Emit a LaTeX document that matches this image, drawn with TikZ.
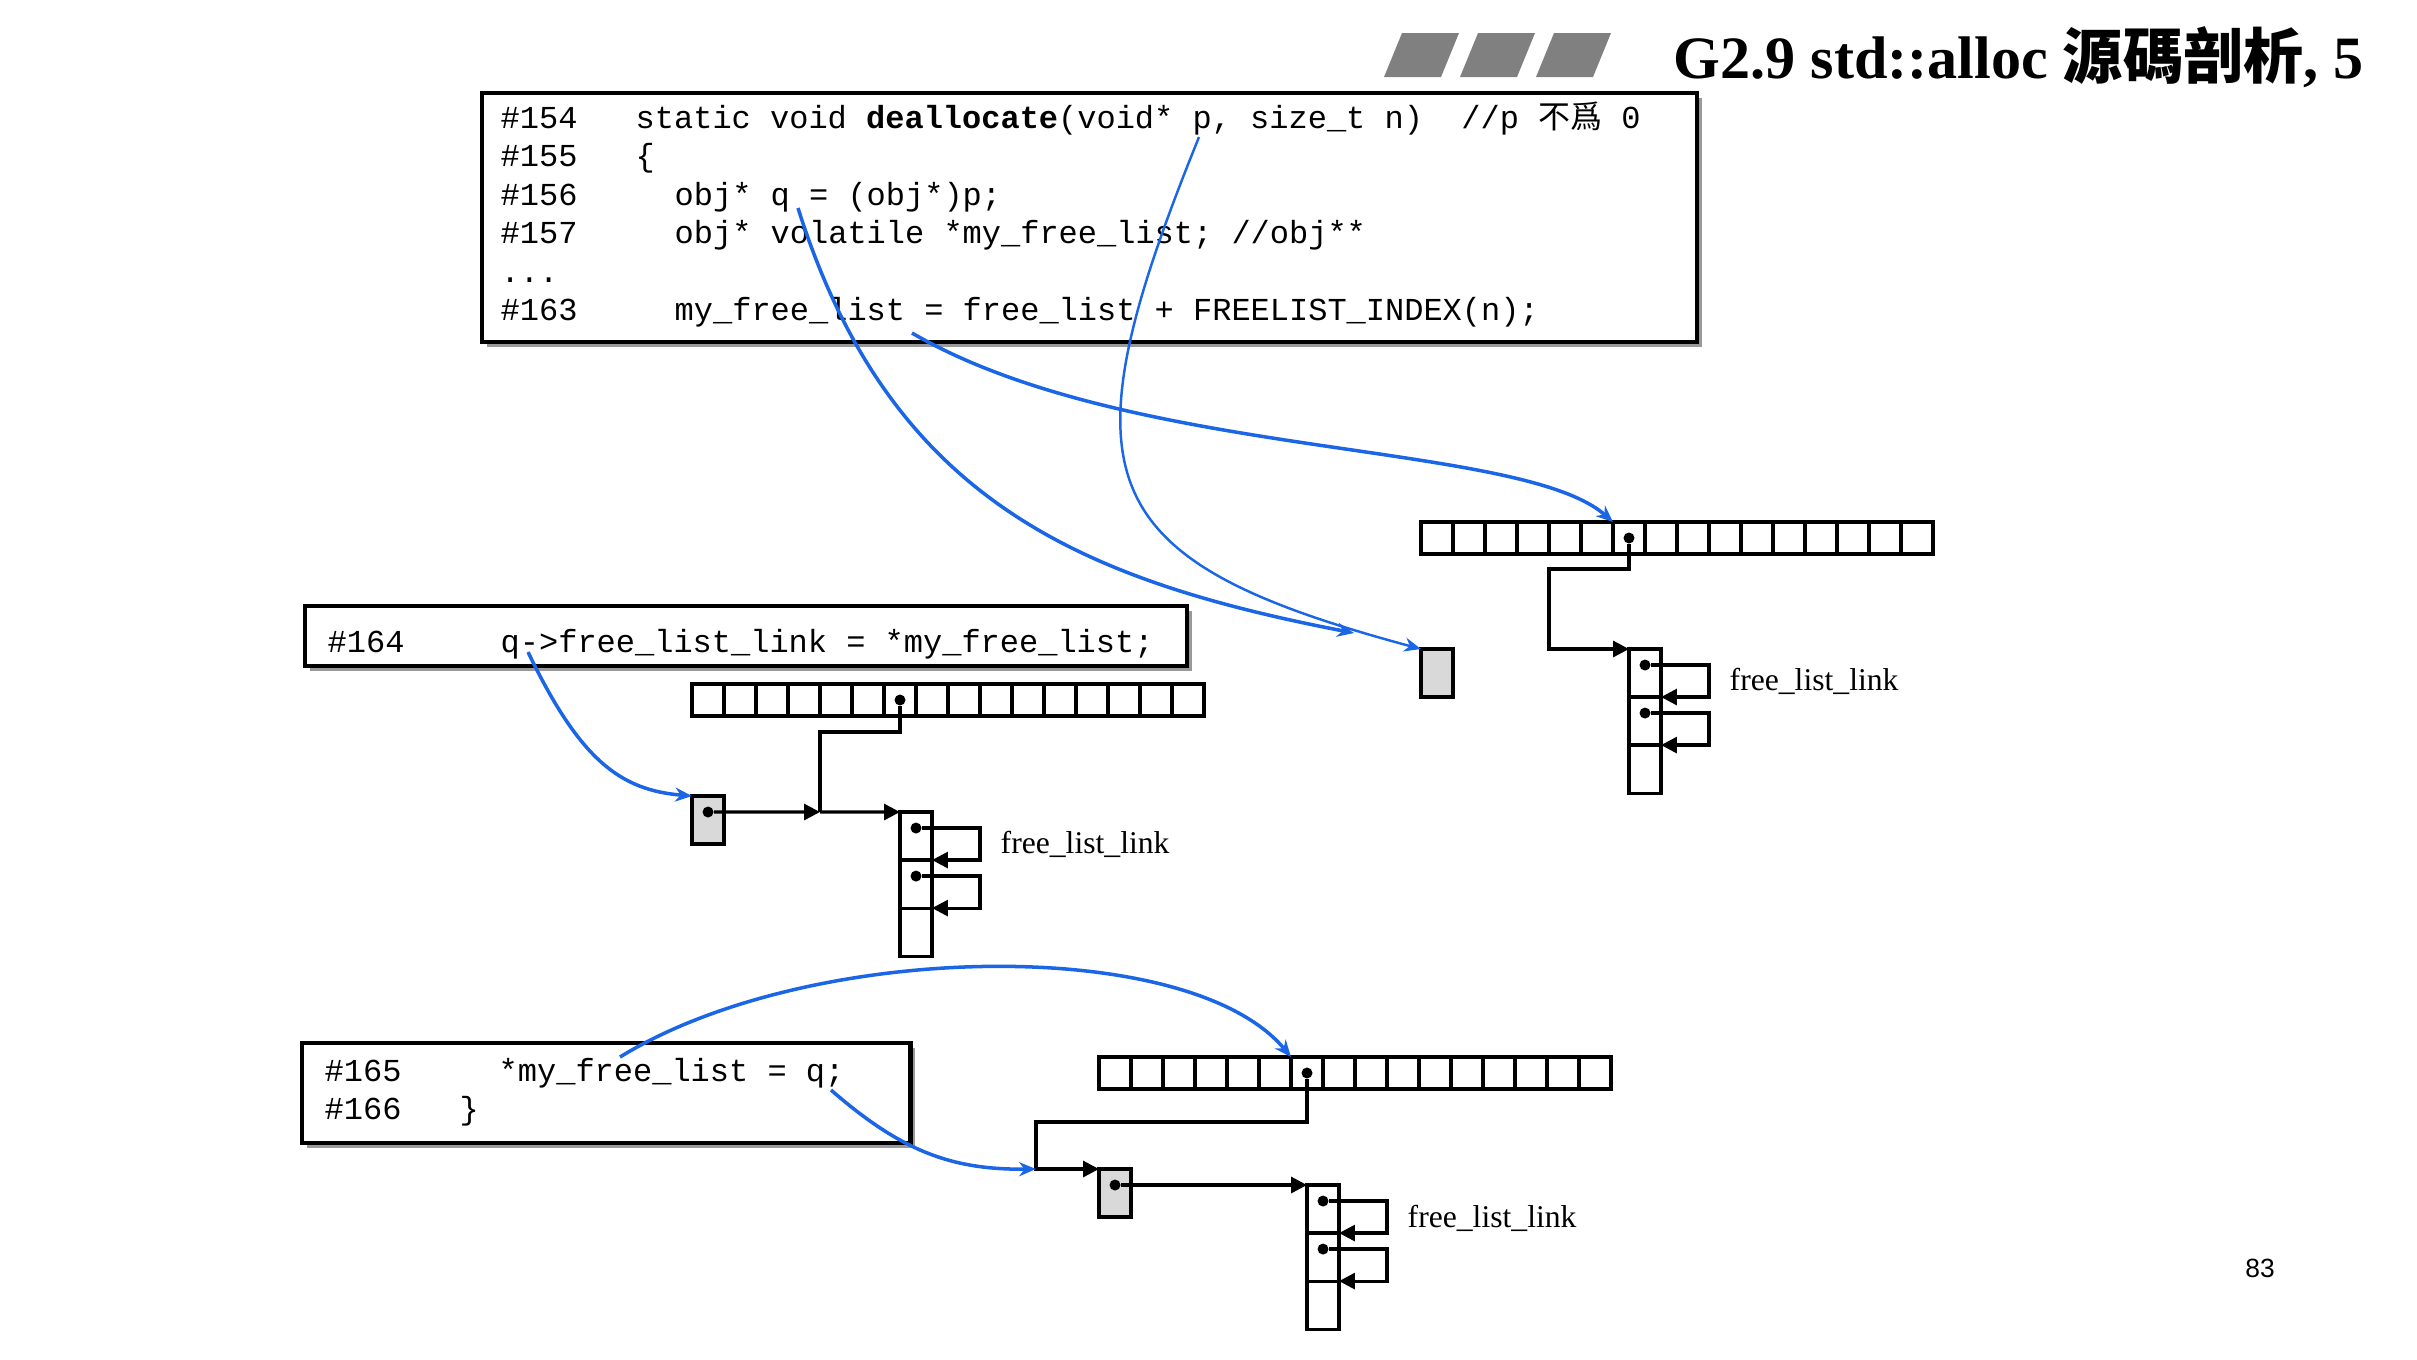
\documentclass[tikz,border=0pt]{standalone}
\usepackage{fontspec}
\setmainfont{Liberation Serif}
\newfontfamily\codefont{Liberation Mono}
\newfontfamily\cjk{Noto Sans CJK TC}
\newfontfamily\pagefont{Liberation Sans}
\usetikzlibrary{arrows.meta,shadows,positioning}
\definecolor{linkblue}{RGB}{26,102,230}
\tikzset{
  cell/.style={draw, line width=0.9pt, minimum width=0.32cm, minimum height=0.32cm, inner sep=0pt, outer sep=0pt},
  lcell/.style={cell, minimum height=0.48cm},
  grayblock/.style={cell, fill=gray!30, minimum height=0.48cm},
  dot/.style={circle, fill=black, inner sep=0pt, minimum size=0.11cm},
  wire/.style={line width=0.9pt},
  ptr/.style={wire, -{Triangle[length=4.5pt,width=4.5pt]}},
  hint/.style={draw=linkblue, line width=1pt, -{Stealth[length=4.8pt,width=4pt]}},
  codebox/.style={draw, line width=1.2pt, fill=white, inner sep=0pt, anchor=north west,
    drop shadow={shadow xshift=0.05cm, shadow yshift=-0.05cm, fill=gray!80, opacity=1}},
  code/.style={font=\codefont\fontsize{9.1pt}{11pt}\selectfont, inner sep=0pt, anchor=base west},
  lbl/.style={font=\fontsize{9pt}{11pt}\selectfont, inner sep=0pt, anchor=base west},
}
\begin{document}
\begin{tikzpicture}[x=0.01cm,y=-0.01cm]
    \useasboundingbox (0,0) rectangle (2417,1359);

    % Title with the three slanted bars
    \foreach \k in {0,1,2}
      \fill[black!50] ({1384+76*\k},77) -- ++(57,0) -- ++(18,-44) -- ++(-57,0) -- cycle;
    \node[anchor=base west, inner sep=0pt, font=\fontsize{17.1pt}{20pt}\selectfont\bfseries] (title) at (1673,78)
      {G2.9 std::alloc {\cjk 源碼剖析}, 5};

    % Code of deallocate
    \node[codebox, minimum width=12.14cm, minimum height=2.49cm] (box1) at (480,91) {};
    \node[code] (n154) at (500,128) {\#154};
    \node[code] (c154) at (635,128) {static void \textbf{deallocate}(void* p, size\_t n)\ \ //p {\cjk 不爲} 0};
    \node[code] (n155) at (500,166) {\#155};
    \node[code] (c155) at (635,166) {\{};
    \node[code] (n156) at (500,205) {\#156};
    \node[code] (c156) at (674,205) {obj* q = (obj*)p;};
    \node[code] (n157) at (500,243) {\#157};
    \node[code] (c157) at (674,243) {obj* volatile *my\_free\_list; //obj**};
    \node[code] (ndots) at (500,282) {...};
    \node[code] (n163) at (500,320) {\#163};
    \node[code] (c163) at (674,320) {my\_free\_list = free\_list + FREELIST\_INDEX(n);};

    % Free list before the block is given back
    \foreach \i in {0,...,15}
      \node[cell] (ta\i) at ({1437+32*\i},538) {};
    \node[dot] (tadot) at (ta6.center) {};
    \node[grayblock, anchor=north west] (tq) at (1421,649) {};
    \node[lcell, anchor=north west] (tl1) at (tadot |- tq.north) {};
    \node[lcell, below=0pt of tl1] (tl2) {};
    \node[lcell, below=0pt of tl2] (tl3) {};
    \node[dot] (tl1dot) at ([yshift=-0.16cm]tl1.north) {};
    \node[dot] (tl2dot) at ([yshift=-0.16cm]tl2.north) {};
    \coordinate (tbend) at (1549,569);
    \draw[ptr] (tadot) |- (tbend) |- (tl1.north west);
    \draw[ptr] (tl1dot) -| ([xshift=0.48cm]tl1.south east) -- (tl1.south east);
    \draw[ptr] (tl2dot) -| ([xshift=0.48cm]tl2.south east) -- (tl2.south east);
    \node[lbl] (tlbl) at (1729,690) {free\_list\_link};

    % Blue hints from the code
    \coordinate (qsrc) at (798,208);
    \coordinate (qdst) at (1354,633);
    \draw[hint] (qsrc) .. controls (890,500) and (1080,580) .. (qdst);
    \coordinate (psrc) at (1199,137);
    \draw[hint, line width=0.7pt] (psrc) .. controls (1060,480) and (1090,560) .. (tq.north west);
    \coordinate (fsrc) at (912,333);
    \draw[hint] (fsrc) .. controls (1130,460) and (1520,440) .. (ta6.north west);

    % Line 164
    \node[codebox, minimum width=8.81cm, minimum height=0.60cm] (box2) at (303,604) {};
    \node[code] (n164) at (327,652) {\#164};
    \node[code] (c164) at (500,652) {q->free\_list\_link = *my\_free\_list;};

    \foreach \i in {0,...,15}
      \node[cell] (ma\i) at ({708+32*\i},700) {};
    \node[dot] (madot) at (ma6.center) {};
    \node[grayblock, anchor=north west] (mq) at (692,796) {};
    \node[dot] (mqdot) at ([yshift=-0.16cm]mq.north) {};
    \node[lcell, anchor=north west] (ml1) at (madot |- mqdot) {};
    \node[lcell, below=0pt of ml1] (ml2) {};
    \node[lcell, below=0pt of ml2] (ml3) {};
    \node[dot] (ml1dot) at ([yshift=-0.16cm]ml1.north) {};
    \node[dot] (ml2dot) at ([yshift=-0.16cm]ml2.north) {};
    \coordinate (mbend) at (820,732);
    \coordinate (mjoin) at (820,812);
    \draw[wire] (madot) |- (mbend) -- (mjoin);
    \draw[ptr] (mqdot) -- (mjoin);
    \draw[ptr] (mjoin) -- (ml1.north west);
    \draw[ptr] (ml1dot) -| ([xshift=0.48cm]ml1.south east) -- (ml1.south east);
    \draw[ptr] (ml2dot) -| ([xshift=0.48cm]ml2.south east) -- (ml2.south east);
    \node[lbl] (mlbl) at (1000,853) {free\_list\_link};
    \coordinate (lsrc) at (528,652);
    \draw[hint] (lsrc) .. controls (580,760) and (620,790) .. (mq.north west);

    % Lines 165 and 166
    \node[codebox, minimum width=6.08cm, minimum height=1.00cm] (box3) at (300,1041) {};
    \node[code] (n165) at (324,1081) {\#165};
    \node[code] (c165) at (498,1081) {*my\_free\_list = q;};
    \node[code] (n166) at (324,1119) {\#166};
    \node[code] (c166) at (459,1119) {\}};

    \foreach \i in {0,...,15}
      \node[cell] (ba\i) at ({1115+32*\i},1073) {};
    \node[dot] (badot) at (ba6.center) {};
    \node[grayblock, anchor=north west] (bq) at (1099,1169) {};
    \node[dot] (bqdot) at ([yshift=-0.16cm]bq.north) {};
    \node[lcell, anchor=north west] (bl1) at (badot |- bqdot) {};
    \node[lcell, below=0pt of bl1] (bl2) {};
    \node[lcell, below=0pt of bl2] (bl3) {};
    \node[dot] (bl1dot) at ([yshift=-0.16cm]bl1.north) {};
    \node[dot] (bl2dot) at ([yshift=-0.16cm]bl2.north) {};
    \coordinate (bbend) at (1036,1122);
    \draw[ptr] (badot) |- (bbend) |- (bq.north west);
    \draw[ptr] (bqdot) -- (bl1.north west);
    \draw[ptr] (bl1dot) -| ([xshift=0.48cm]bl1.south east) -- (bl1.south east);
    \draw[ptr] (bl2dot) -| ([xshift=0.48cm]bl2.south east) -- (bl2.south east);
    \node[lbl] (blbl) at (1407,1227) {free\_list\_link};
    \coordinate (ssrc) at (620,1057);
    \draw[hint] (ssrc) .. controls (810,940) and (1190,935) .. (ba6.north west);
    \coordinate (rsrc) at (831,1090);
    \draw[hint] (rsrc) .. controls (900,1150) and (950,1170) .. (bbend |- bq.north west);

    % Page number
    \node[inner sep=0pt, font=\pagefont\fontsize{7.5pt}{9pt}\selectfont] (page) at (2260,1268) {83};

\end{tikzpicture}
\end{document}
